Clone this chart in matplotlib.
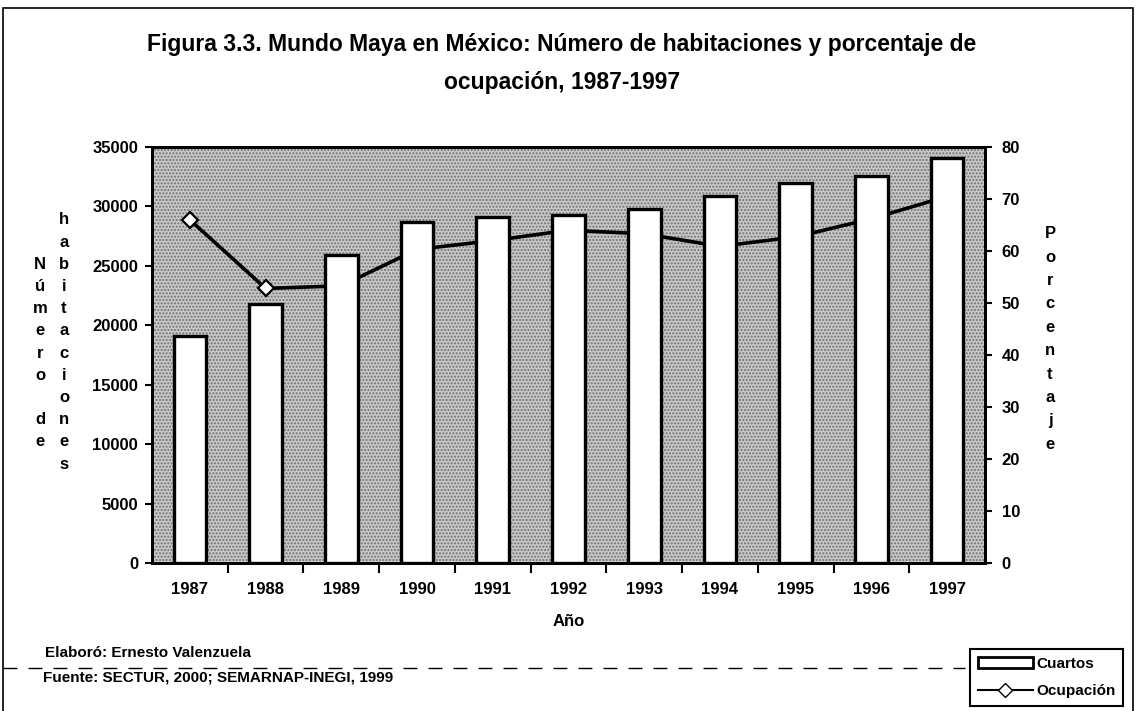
import matplotlib
matplotlib.use('Agg')
import matplotlib.pyplot as plt
from matplotlib.patches import Rectangle, Patch
from matplotlib.lines import Line2D

plt.rcParams['font.family'] = ['Liberation Sans', 'DejaVu Sans']
plt.rcParams['font.weight'] = 'bold'

years = ['1987', '1988', '1989', '1990', '1991', '1992', '1993', '1994', '1995', '1996', '1997']
cuartos = [19100, 21800, 25900, 28700, 29100, 29300, 29800, 30900, 32000, 32600, 34100]
ocupacion = [66.0, 52.8, 53.3, 60.3, 62.0, 64.0, 63.3, 60.9, 62.7, 66.2, 70.5]
left_ticks = [0, 5000, 10000, 15000, 20000, 25000, 30000, 35000]
right_ticks = [0, 10, 20, 30, 40, 50, 60, 70, 80]

W, H = 1138, 711
fig = plt.figure(figsize=(W / 100, H / 100), dpi=100)
fig.patch.set_facecolor('white')

# bottom axes: line (percent), top axes: bars (rooms) so the line goes behind the bars
ax = fig.add_axes([152 / W, 1 - 563 / H, 833 / W, 416 / H])
ax2 = ax.twinx()
x = list(range(len(years)))

ax.add_patch(Rectangle((0, 0), 1, 1, transform=ax.transAxes, facecolor='#c8c8c8',
                       hatch='.....', edgecolor='#707070', lw=0, zorder=0))
ax.plot(x, ocupacion, color='black', lw=2.6, marker='D', markersize=8,
        markerfacecolor='white', markeredgecolor='black', markeredgewidth=1.6,
        zorder=2, label='Ocupación')
ax.set_ylim(0, 80)
ax.set_yticks(right_ticks)
ax.yaxis.tick_right()
ax.yaxis.set_label_position('right')

ax2.bar(x, cuartos, width=0.43, color='white', edgecolor='black', lw=2.4, zorder=3,
        label='Cuartos')
ax2.set_ylim(0, 35000)
ax2.set_yticks(left_ticks)
ax2.yaxis.tick_left()
ax2.patch.set_visible(False)

ax.set_xlim(-0.5, len(years) - 0.5)
ax.set_xticks(x)
ax.set_xticklabels(years)
ax.set_xticks([i + 0.5 for i in x[:-1]], minor=True)
ax.tick_params(axis='x', which='major', length=0, pad=14, labelsize=12)
ax.tick_params(axis='x', which='minor', length=7, width=1.5, direction='out')
ax.tick_params(axis='y', length=5, width=1.5, direction='out', pad=7, labelsize=12)
ax2.tick_params(axis='y', length=5, width=1.5, direction='out', pad=5, labelsize=12)

for a in (ax, ax2):
    for s in a.spines.values():
        s.set_linewidth(2)
        s.set_color('black')

# titles and stacked axis labels
fig.text(562 / W, 1 - 45 / H, 'Figura 3.3. Mundo Maya en México: Número de habitaciones y porcentaje de',
         ha='center', va='center', fontsize=16.5, fontweight='bold')
fig.text(562 / W, 1 - 83 / H, 'ocupación, 1987-1997',
         ha='center', va='center', fontsize=16.5, fontweight='bold')
fig.text(569 / W, 1 - 622 / H, 'Año', ha='center', va='center', fontsize=12, fontweight='bold')

fig.text(40 / W, 1 - 353 / H, '\n'.join('Número de'), ha='center', va='center',
         fontsize=12, fontweight='bold', linespacing=1.6)
fig.text(64 / W, 1 - 342 / H, '\n'.join('habitaciones'), ha='center', va='center',
         fontsize=12, fontweight='bold', linespacing=1.6)
fig.text(1050 / W, 1 - 339 / H, '\n'.join('Porcentaje'), ha='center', va='center',
         fontsize=12, fontweight='bold', linespacing=1.7)

fig.text(45 / W, 1 - 653 / H, 'Elaboró: Ernesto Valenzuela', ha='left', va='center',
         fontsize=11, fontweight='bold')
fig.text(43 / W, 1 - 678 / H, 'Fuente: SECTUR, 2000; SEMARNAP-INEGI, 1999', ha='left', va='center',
         fontsize=11, fontweight='bold')

# scanned page frame and dashed rule
fig.add_artist(Rectangle((3 / W, -0.01), 1130 / W, 1 - 8 / H + 0.01, transform=fig.transFigure,
                         fill=False, edgecolor='black', lw=1.2))
fig.add_artist(Line2D([3 / W, 965 / W], [1 - 668 / H, 1 - 668 / H], transform=fig.transFigure,
                      color='black', lw=1, ls=(0, (10, 8))))

handles = [Patch(facecolor='white', edgecolor='black', lw=2),
           Line2D([], [], color='black', lw=1.5, marker='D', markersize=7,
                  markerfacecolor='white', markeredgecolor='black')]
leg = fig.legend(handles, ['Cuartos', 'Ocupación'], loc='lower right',
                 bbox_to_anchor=(1123 / W, 1 - 706 / H), fontsize=11,
                 frameon=True, fancybox=False, framealpha=1, edgecolor='black',
                 handlelength=3.6, handletextpad=0.2, labelspacing=0.9,
                 borderpad=0.5, borderaxespad=0)
leg.get_frame().set_linewidth(1.5)

fig.savefig('out.png', dpi=100)
